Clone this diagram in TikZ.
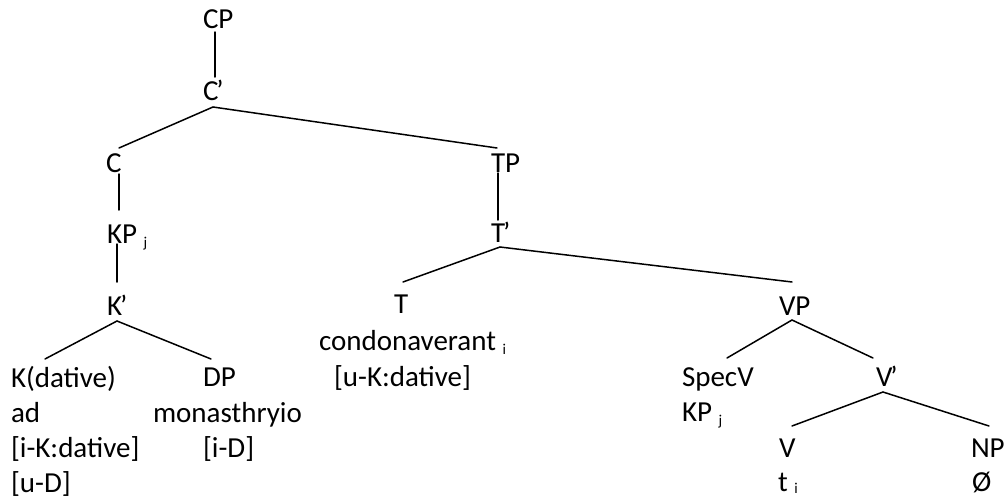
\documentclass[tikz,border=0pt]{standalone}
\usepackage{fontspec}
\setmainfont{Carlito}
\newcommand{\mysub}[1]{\raisebox{-4pt}{\fontsize{15}{15}\selectfont #1}}
\newcommand{\xbarprime}{\kern-2pt’}
\tikzset{
  lbl/.style={anchor=base west, inner sep=0pt, outer sep=0pt, font=\fontsize{29}{35}\selectfont},
  br/.style={line width=1.5pt, line cap=round}
}
\begin{document}
\begin{tikzpicture}[x=1pt,y=-1pt]
\useasboundingbox[fill=white] (0,0) rectangle (1004,498);
% nodes
\node[lbl] (CP) at (203,28) {CP};
\node[lbl] (Cb) at (203,100) {C\xbarprime};
\node[lbl] (C) at (106,172) {C};
\node[lbl] (TP) at (491,172) {TP};
\node[lbl] (KP) at (107,243) {KP \mysub{j}};
\node[lbl] (Tb) at (491,242) {T\xbarprime};
\node[lbl] (Kb) at (107,315) {K\xbarprime};
\node[lbl] (T) at (394,313) {T};
\node[lbl] (VP) at (779,315) {VP};
\node[lbl] (K) at (11,387) {K(dative)};
\node[lbl] (Ka) at (11,422) {ad};
\node[lbl] (Kf1) at (11,457) {[i-K:dative]};
\node[lbl] (Kf2) at (11,492) {[u-D]};
\node[lbl] (DP) at (203,386) {DP};
\node[lbl] (DPa) at (153,422) {monasthryio};
\node[lbl] (DPf) at (203,457) {[i-D]};
\node[lbl] (Ta) at (319,350) {condonaverant \mysub{i}};
\node[lbl] (Tf) at (334,386) {[u-K:dative]};
\node[lbl] (Spec) at (682,386) {SpecV};
\node[lbl] (Speca) at (682,421) {KP \mysub{j}};
\node[lbl] (Vb) at (876,386) {V\xbarprime};
\node[lbl] (V) at (779,457) {V};
\node[lbl] (Va) at (778,491) {t \raisebox{-2pt}{\fontsize{15}{15}\selectfont i}};
\node[lbl] (NP) at (971,457) {NP};
\node[lbl] (NPa) at (972,491) {Ø};
% attachment points
\coordinate (CP-s) at (215,32);
\coordinate (Cb-n) at (215,77);
\coordinate (Cb-s) at (213,107);
\coordinate (C-n) at (119,148);
\coordinate (TP-n) at (497,148);
\coordinate (C-s) at (119,174);
\coordinate (KP-n) at (119,210);
\coordinate (KP-s) at (117,244);
\coordinate (Kb-n) at (117,282);
\coordinate (Kb-s) at (117,321);
\coordinate (K-n) at (45,359);
\coordinate (DP-n) at (211,359);
\coordinate (TP-s) at (498,173);
\coordinate (Tb-n) at (498,220);
\coordinate (Tb-s) at (500,247);
\coordinate (T-n) at (403,282);
\coordinate (VP-n) at (792,282);
\coordinate (VP-s) at (792,320);
\coordinate (Spec-n) at (727,358);
\coordinate (Vb-n) at (873,358);
\coordinate (Vb-s) at (883,392);
\coordinate (V-n) at (792,426);
\coordinate (NP-n) at (989,426);
% branches
\draw[br] (CP-s) -- (Cb-n);
\draw[br] (Cb-s) -- (C-n);
\draw[br] (Cb-s) -- (TP-n);
\draw[br] (C-s) -- (KP-n);
\draw[br] (KP-s) -- (Kb-n);
\draw[br] (Kb-s) -- (K-n);
\draw[br] (Kb-s) -- (DP-n);
\draw[br] (TP-s) -- (Tb-n);
\draw[br] (Tb-s) -- (T-n);
\draw[br] (Tb-s) -- (VP-n);
\draw[br] (VP-s) -- (Spec-n);
\draw[br] (VP-s) -- (Vb-n);
\draw[br] (Vb-s) -- (V-n);
\draw[br] (Vb-s) -- (NP-n);
\end{tikzpicture}
\end{document}
